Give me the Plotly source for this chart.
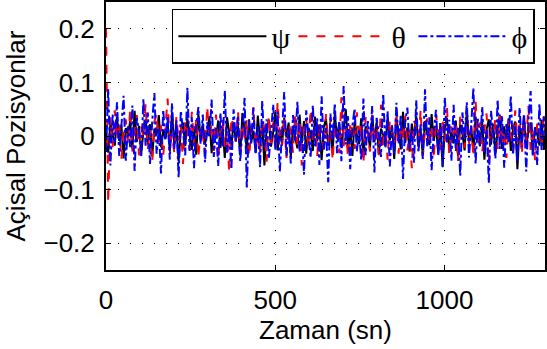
import plotly.graph_objects as go

# sample spacing (s)
dt = 6.5

psi = [
0.012, -0.031, 0.024, 0.005, -0.018, 0.036, -0.009, 0.021, -0.042, 0.015,
0.003, 0.028, -0.025, 0.047, -0.011, 0.019, -0.034, 0.008, 0.031, -0.016,
0.022, -0.038, 0.014, 0.002, 0.039, -0.021, 0.011, -0.006, 0.027, -0.029,
0.044, -0.013, 0.017, -0.047, 0.009, 0.025, -0.019, 0.033, 0.001, -0.026,
0.018, -0.035, 0.041, -0.008, 0.023, -0.015, 0.006, 0.037, -0.032, 0.013,
-0.004, 0.029, -0.022, 0.016, -0.041, 0.035, 0.007, -0.017, 0.026, -0.010,
0.020, -0.036, 0.043, 0.004, -0.024, 0.031, -0.012, 0.010, -0.030, 0.038,
-0.007, 0.022, -0.055, 0.014, 0.030, -0.020, 0.008, 0.046, -0.027, 0.012,
-0.016, 0.034, -0.003, 0.025, -0.039, 0.019, 0.001, -0.023, 0.040, -0.014,
0.028, -0.033, 0.015, 0.006, -0.028, 0.036, -0.010, 0.021, -0.045, 0.017,
0.032, -0.018, 0.009, -0.031, 0.042, -0.005, 0.024, -0.021, 0.013, 0.050,
-0.026, 0.011, -0.037, 0.027, 0.003, -0.015, 0.033, -0.040, 0.018, 0.007,
-0.022, 0.039, -0.011, 0.026, -0.034, 0.014, 0.002, -0.019, 0.035, -0.008,
0.020, -0.043, 0.030, 0.010, -0.025, 0.045, -0.013, 0.016, -0.029, 0.023,
-0.004, 0.037, -0.020, 0.012, -0.036, 0.028, 0.005, -0.017, 0.041, -0.009,
0.019, -0.032, 0.024, -0.058, 0.015, 0.034, -0.023, 0.008, -0.014, 0.029,
-0.038, 0.021, 0.004, -0.027, 0.048, -0.012, 0.017, -0.030, 0.036, 0.001,
-0.019, 0.026, -0.044, 0.013, 0.031, -0.016, 0.022, -0.035, 0.010, 0.040,
-0.024, 0.018, -0.006, 0.033, -0.028, 0.014, 0.027, -0.062, 0.020, -0.011,
0.038, -0.021, 0.009, 0.025, -0.033, 0.016, 0.003, -0.018, 0.030, -0.026,
0.012]

theta = [
0.200, -0.125, 0.035, -0.021, 0.048, -0.008, 0.026, -0.044, 0.013, 0.031,
-0.017, 0.052, -0.029, 0.006, 0.039, -0.036, 0.018, -0.003, 0.060, -0.024,
0.011, -0.049, 0.027, 0.042, -0.012, 0.020, -0.038, 0.015, 0.070, -0.019,
0.004, -0.031, 0.037, -0.010, 0.023, -0.052, 0.029, 0.008, -0.026, 0.045,
-0.015, 0.033, -0.041, 0.019, 0.002, -0.033, 0.056, -0.007, 0.024, -0.028,
0.040, -0.045, 0.014, 0.030, -0.020, 0.009, -0.069, 0.035, 0.016, -0.011,
0.047, -0.030, 0.021, -0.004, 0.032, -0.039, 0.012, 0.054, -0.023, 0.007,
-0.035, 0.028, 0.017, -0.048, 0.038, -0.013, 0.025, -0.027, 0.064, 0.003,
-0.018, 0.036, -0.042, 0.022, 0.010, -0.031, 0.043, -0.016, 0.029, -0.055,
0.013, 0.034, -0.022, 0.050, -0.009, 0.018, -0.037, 0.026, 0.005, -0.025,
0.041, -0.014, 0.031, -0.046, 0.020, 0.008, -0.032, 0.072, -0.019, 0.015,
-0.040, 0.027, 0.011, -0.024, 0.044, -0.006, 0.023, -0.051, 0.035, 0.001,
-0.029, 0.039, -0.012, 0.019, -0.036, 0.058, -0.021, 0.014, -0.044, 0.030,
0.006, -0.016, 0.046, -0.033, 0.024, -0.008, 0.037, -0.027, 0.012, -0.060,
0.028, 0.017, -0.020, 0.049, -0.038, 0.010, 0.033, -0.014, 0.022, -0.043,
0.040, 0.004, -0.026, 0.031, -0.010, 0.053, -0.034, 0.018, -0.005, 0.027,
-0.047, 0.036, 0.009, -0.022, 0.045, -0.015, 0.020, -0.039, 0.066, -0.011,
0.025, -0.030, 0.013, 0.042, -0.053, 0.016, -0.002, 0.034, -0.024, 0.038,
-0.017, 0.011, -0.041, 0.029, 0.007, -0.028, 0.048, -0.013, 0.021, -0.035,
0.032, -0.009, 0.056, -0.026, 0.015, -0.045, 0.024, 0.003, -0.019, 0.037,
-0.012]

phi = [
-0.030, 0.088, -0.055, 0.041, -0.012, 0.063, -0.037, 0.022, 0.075, -0.046,
0.018, -0.021, 0.057, -0.065, 0.034, 0.009, -0.040, 0.069, -0.018, 0.044,
-0.052, 0.027, 0.080, -0.033, 0.014, -0.070, 0.049, -0.007, 0.038, -0.044,
0.061, -0.024, 0.030, -0.078, 0.047, 0.010, -0.036, 0.090, -0.028, 0.035,
-0.060, 0.021, 0.054, -0.015, 0.040, -0.049, 0.026, -0.003, 0.068, -0.039,
0.016, -0.056, 0.043, -0.020, 0.085, -0.031, 0.012, -0.062, 0.050, -0.009,
0.036, -0.047, 0.024, 0.071, -0.096, 0.029, -0.014, 0.052, -0.035, 0.019,
-0.058, 0.066, -0.022, 0.031, -0.043, 0.008, 0.059, -0.027, 0.045, -0.066,
0.023, 0.082, -0.038, 0.013, -0.051, 0.039, -0.011, 0.064, -0.030, 0.017,
-0.072, 0.048, 0.002, -0.041, 0.057, -0.019, 0.033, -0.054, 0.074, -0.025,
0.015, -0.086, 0.042, -0.008, 0.061, -0.032, 0.026, -0.047, 0.093, -0.016,
0.037, -0.062, 0.020, 0.051, -0.029, 0.011, -0.045, 0.070, -0.036, 0.028,
-0.010, 0.056, -0.068, 0.034, 0.004, -0.039, 0.079, -0.023, 0.046, -0.057,
0.018, -0.034, 0.062, -0.014, 0.040, -0.080, 0.027, 0.053, -0.026, 0.012,
-0.050, 0.067, -0.031, 0.022, -0.043, 0.087, -0.019, 0.035, -0.064, 0.009,
0.049, -0.037, 0.024, -0.056, 0.072, -0.012, 0.030, -0.046, 0.058, -0.028,
0.016, -0.074, 0.044, -0.005, 0.063, -0.040, 0.021, 0.090, -0.052, 0.032,
-0.017, 0.055, -0.033, 0.013, -0.088, 0.047, 0.006, -0.042, 0.068, -0.024,
0.038, -0.059, 0.025, -0.011, 0.076, -0.035, 0.019, -0.048, 0.053, -0.021,
0.041, -0.066, 0.029, 0.084, -0.038, 0.014, -0.054, 0.060, -0.026, 0.036,
-0.015]

series_names = ["ψ", "θ", "ϕ"]
series_colors = ["#000000", "#ff0000", "#0000ff"]
series_dash = ["solid", "dash", "dashdot"]

x_ticks = [0, 500, 1000]
y_ticks = [-0.2, -0.1, 0, 0.1, 0.2]

fig = go.Figure()
for vals, name, col, dash in zip([psi, theta, phi], series_names, series_colors, series_dash):
    t = [i * dt for i in range(len(vals))]
    fig.add_trace(go.Scatter(x=t, y=vals, mode="lines", name=name,
                             line=dict(color=col, width=2, dash=dash)))

font_sans = "Liberation Sans, Arial"
axis_common = dict(
    showline=True, linecolor="black", linewidth=2, mirror="ticks",
    ticks="inside", ticklen=5, tickcolor="black", tickwidth=1,
    showgrid=True, gridcolor="black", gridwidth=1, griddash="1px,11px",
    zeroline=False,
    tickfont=dict(family=font_sans, size=26, color="black"),
)

fig.update_layout(
    width=547, height=349,
    margin=dict(l=106, r=0, t=2, b=79),
    plot_bgcolor="white", paper_bgcolor="white",
    xaxis=dict(range=[0, 1297], tickvals=x_ticks, ticklabelstandoff=6, **axis_common,
               title=dict(text="Zaman (sn)", standoff=0,
                          font=dict(family=font_sans, size=26, color="black"))),
    yaxis=dict(range=[-0.25, 0.25], tickvals=y_ticks, ticklabelstandoff=4, **axis_common,
               title=dict(text="Açisal Pozisyonlar", standoff=10,
                          font=dict(family=font_sans, size=26, color="black"))),
    legend=dict(orientation="h", x=0.977, y=0.975, xanchor="right", yanchor="top",
                bgcolor="white", bordercolor="black", borderwidth=1.5,
                font=dict(family="Liberation Serif, Times New Roman", size=30, color="black"),
                itemwidth=88, entrywidth=17, tracegroupgap=0),
    showlegend=True,
)

fig.write_html("out.html")
